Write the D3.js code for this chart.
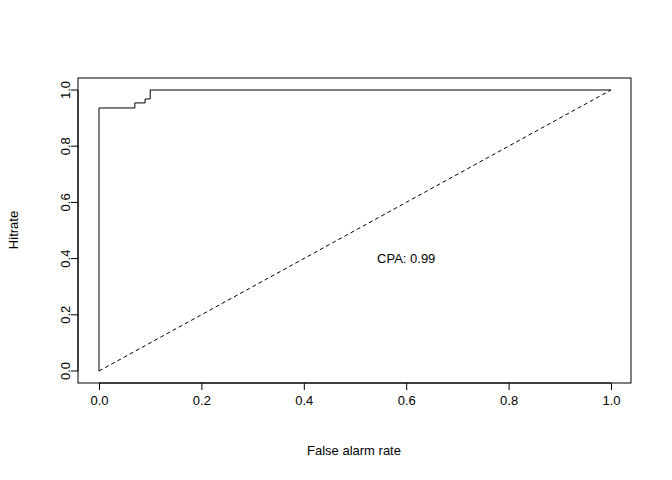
<!DOCTYPE html>
<html><head><meta charset="utf-8">
<script src="https://cdn.jsdelivr.net/npm/d3@7"></script>
<style>body{margin:0;background:#fff}text{font-family:"Liberation Sans",Arial,sans-serif;font-size:13px}</style>
</head><body>
<svg id="c" width="672" height="480"></svg>
<script>
// ROC step curve
const falseAlarm = [0, 0, 0.07, 0.07, 0.09, 0.09, 0.10, 0.10, 1.0]
const hitRate = [0, 0.936, 0.936, 0.954, 0.954, 0.968, 0.968, 1.0, 1.0]
const ticks = [0, 0.2, 0.4, 0.6, 0.8, 1.0]

const svg = d3.select('#c')
const x = d3.scaleLinear().domain([0, 1]).range([99, 611])
const y = d3.scaleLinear().domain([0, 1]).range([371, 90])

svg.append('rect').attr('x', 78).attr('y', 78).attr('width', 553).attr('height', 305)
    .attr('fill', 'none').attr('stroke', '#000')

const xa = svg.append('g').attr('transform', 'translate(0,383)')
    .call(d3.axisBottom(x).tickValues(ticks).tickFormat(d3.format('.1f')).tickSizeOuter(0).tickSize(7).tickPadding(6))
const ya = svg.append('g').attr('transform', 'translate(78,0)')
    .call(d3.axisLeft(y).tickValues(ticks).tickFormat(d3.format('.1f')).tickSizeOuter(0).tickSize(7).tickPadding(6))
ya.selectAll('text').attr('transform', function (d) { return 'rotate(-90,' + (-13) + ',' + y(d) + ')' })
    .attr('x', -13).attr('y', d => y(d)).attr('dy', '0.35em').style('text-anchor', 'middle')
ya.selectAll('.tick').attr('transform', null)
ya.selectAll('.tick line').attr('y1', d => y(d)).attr('y2', d => y(d))
;[xa, ya].forEach(a => {
    a.selectAll('text').style('font-size', '13px').attr('fill', '#000')
    a.selectAll('line,path').attr('stroke', '#000')
})
ya.select('.domain').attr('d', 'M-7,' + y(0) + 'H0V' + y(1) + 'H-7').attr('d', 'M0,' + y(0) + 'V' + y(1))
xa.select('.domain').attr('d', 'M' + x(0) + ',0H' + x(1))

svg.append('path').attr('fill', 'none').attr('stroke', '#000').attr('stroke-dasharray', '4,3')
    .attr('d', d3.line()([[x(0), y(0)], [x(1), y(1)]]))
svg.append('path').attr('fill', 'none').attr('stroke', '#000')
    .attr('d', d3.line().x((d, i) => x(falseAlarm[i])).y(d => y(d))(hitRate))

svg.append('text').attr('x', x(0.6)).attr('y', y(0.4)).attr('dy', '0.35em')
    .attr('text-anchor', 'middle').text('CPA: 0.99')
svg.append('text').attr('x', 354).attr('y', 455).attr('text-anchor', 'middle').text('False alarm rate')
svg.append('text').attr('transform', 'translate(18,230) rotate(-90)').attr('text-anchor', 'middle').text('Hitrate')
</script>
</body></html>
